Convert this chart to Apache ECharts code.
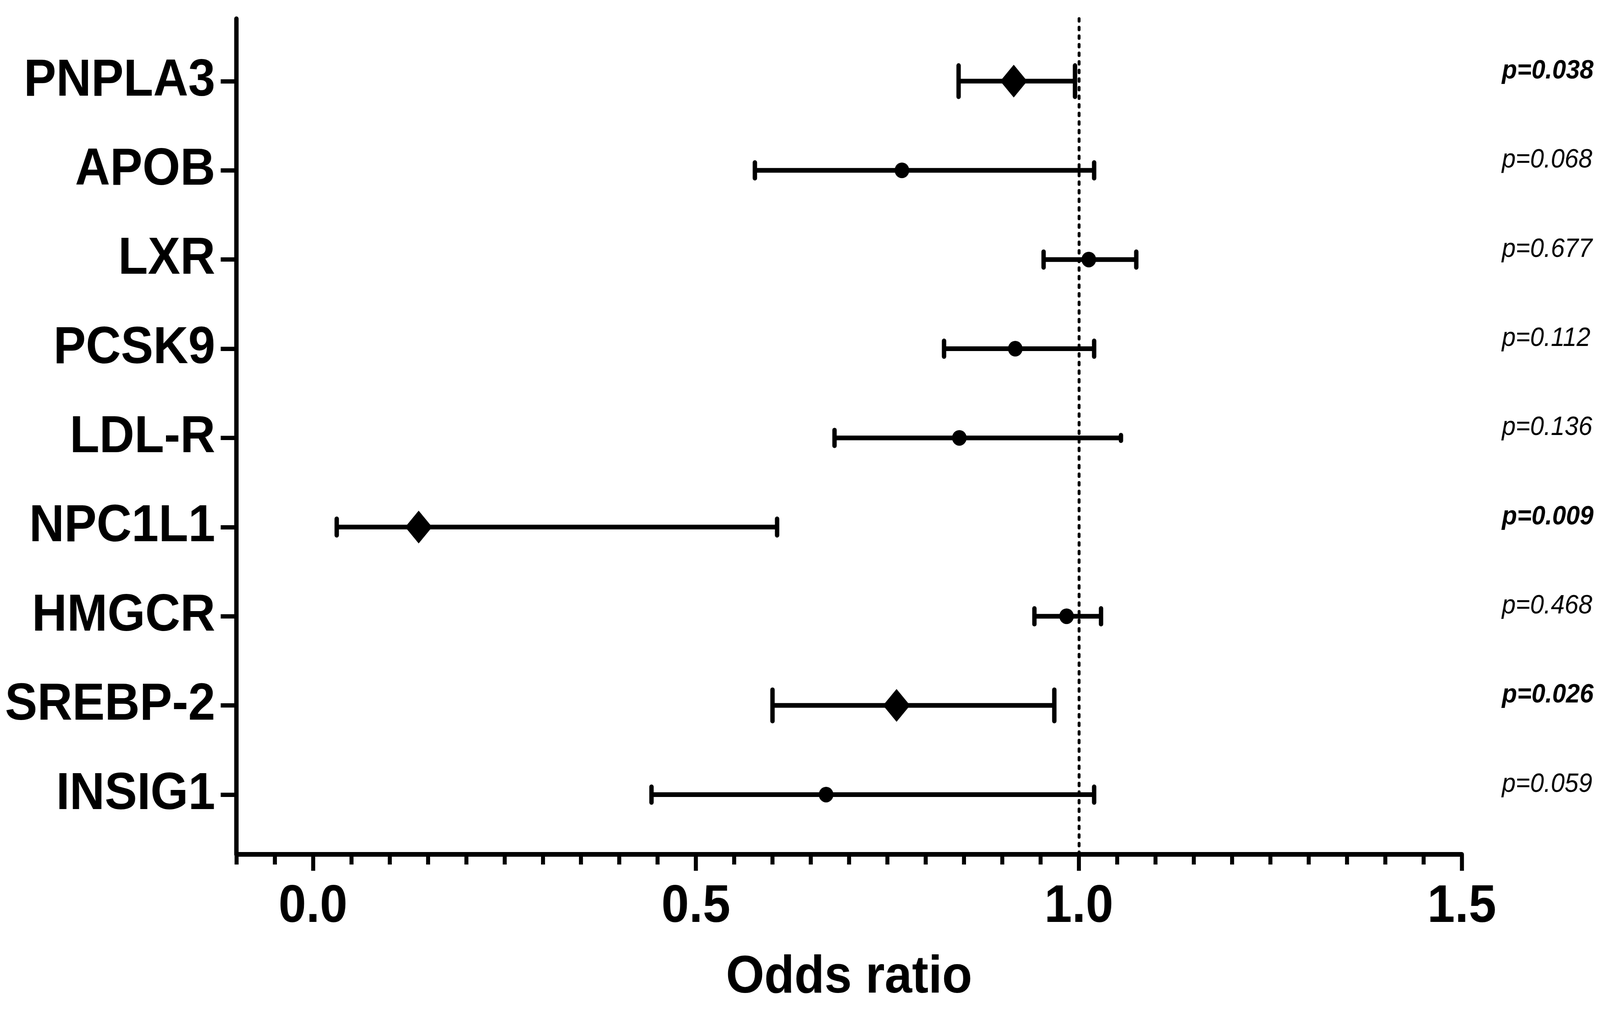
<!DOCTYPE html>
<html>
<head>
<meta charset="utf-8">
<script src="https://cdn.jsdelivr.net/npm/echarts@6/dist/echarts.min.js"></script>
<style>
html,body{margin:0;padding:0;background:#fff;overflow:hidden;}
#chart{width:4386px;height:2584px;transform-origin:0 0;}
</style>
</head>
<body>
<div id="chart"></div>
<script>
// ---- data ----
const genes = ['PNPLA3', 'APOB', 'LXR', 'PCSK9', 'LDL-R', 'NPC1L1', 'HMGCR', 'SREBP-2', 'INSIG1'];
const oddsRatio = [0.915, 0.769, 1.013, 0.917, 0.844, 0.138, 0.984, 0.762, 0.670];
const ciLow = [0.843, 0.577, 0.954, 0.824, 0.681, 0.031, 0.942, 0.600, 0.442];
const ciHigh = [0.995, 1.020, 1.075, 1.020, 1.055, 0.606, 1.029, 0.968, 1.020];
const pValues = ['p=0.038', 'p=0.068', 'p=0.677', 'p=0.112', 'p=0.136', 'p=0.009', 'p=0.468', 'p=0.026', 'p=0.059'];
const significant = [true, false, false, false, false, true, false, true, false];
const xTickLabels = [0, 0.5, 1.0, 1.5];
const refLine = 1.0;

// ---- styles ----
const FONT = "'Liberation Sans', Arial, Helvetica, sans-serif";
const capLowH = [92, 52, 52, 52, 52, 54, 52, 92, 52];
const capHighH = [92, 52, 52, 52, 26, 54, 52, 92, 52];
const LW = 12;
const W = 4386, H = 2584;

// fit the 4386x2584 drawing into whatever viewport the page gets
const el = document.getElementById('chart');
const sx = (window.innerWidth || W) / W, sy = (window.innerHeight || H) / H;
if (Math.abs(sx - 1) > 0.001 || Math.abs(sy - 1) > 0.001) {
  el.style.transform = 'scale(' + sx + ',' + sy + ')';
}

const rowIdx = genes.map((g, i) => i + 1);

const chart = echarts.init(el, null, {renderer: 'canvas', devicePixelRatio: 1, width: W, height: H});

const errData = genes.map((g, i) => [ciLow[i], ciHigh[i], oddsRatio[i], rowIdx[i]]);
const sigPts = [], nsPts = [];
genes.forEach((g, i) => { (significant[i] ? sigPts : nsPts).push([oddsRatio[i], rowIdx[i]]); });

const pStyle = {fontStyle: 'italic', fontSize: 68, fontFamily: FONT, color: '#000', padding: [0, 0, 52, 0]};

const option = {
  backgroundColor: '#fff',
  animation: false,
  grid: {left: 648, right: 379, top: 48, bottom: 396, containLabel: false, outerBoundsMode: 'none'},
  xAxis: [
    {
      type: 'value', min: -0.1, max: 1.5, interval: 0.05,
      axisLine: {show: true, onZero: false, lineStyle: {color: '#000', width: LW}},
      axisTick: {show: true, length: 26, lineStyle: {color: '#000', width: 11}},
      axisLabel: {
        show: true, customValues: xTickLabels,
        formatter: v => Number(v).toFixed(1),
        color: '#000', fontSize: 136, fontWeight: 'bold', fontFamily: FONT, margin: 67
      },
      splitLine: {show: false},
      name: 'Odds ratio', nameLocation: 'middle', nameGap: 249,
      nameTextStyle: {color: '#000', fontSize: 135, fontWeight: 'bold', fontFamily: FONT, verticalAlign: 'top'}
    },
    {
      type: 'value', min: -0.1, max: 1.5, position: 'bottom',
      axisLine: {show: false, onZero: false},
      axisTick: {show: true, customValues: xTickLabels, length: 42, lineStyle: {color: '#000', width: 11}},
      axisLabel: {show: false},
      splitLine: {show: false}
    }
  ],
  yAxis: [
    {
      type: 'value', min: 0.3, max: 9.67, inverse: true,
      axisLine: {show: true, onZero: false, lineStyle: {color: '#000', width: LW}},
      axisTick: {show: true, customValues: rowIdx, length: 43, lineStyle: {color: '#000', width: 11}},
      axisLabel: {
        show: true, customValues: rowIdx,
        formatter: v => genes[Math.round(v) - 1] || '',
        color: '#000', fontSize: 133, fontWeight: 'bold', fontFamily: FONT, margin: 58
      },
      splitLine: {show: false}
    },
    {
      type: 'value', min: 0.3, max: 9.67, inverse: true, position: 'right',
      axisLine: {show: false, onZero: false},
      axisTick: {show: false},
      axisLabel: {
        show: true, customValues: rowIdx, margin: 110,
        formatter: v => {
          const i = Math.round(v) - 1;
          return (significant[i] ? '{b|' : '{n|') + pValues[i] + '}';
        },
        rich: {
          b: Object.assign({}, pStyle, {fontWeight: 'bold'}),
          n: Object.assign({}, pStyle, {fontWeight: 'normal'})
        }
      },
      splitLine: {show: false}
    }
  ],
  series: [
    {
      type: 'custom', name: 'CI', xAxisIndex: 0, yAxisIndex: 0,
      data: errData,
      encode: {x: [0, 1, 2], y: 3},
      renderItem: function (params, api) {
        const i = params.dataIndex;
        const lo = api.coord([api.value(0), api.value(3)]);
        const hi = api.coord([api.value(1), api.value(3)]);
        const hl = (capLowH[i] - LW) / 2, hh = (capHighH[i] - LW) / 2;
        return {
          type: 'group',
          children: [
            {type: 'line', shape: {x1: lo[0], y1: lo[1], x2: hi[0], y2: hi[1]}, style: {stroke: '#000', lineWidth: LW}},
            {type: 'line', shape: {x1: lo[0], y1: lo[1] - hl, x2: lo[0], y2: lo[1] + hl}, style: {stroke: '#000', lineWidth: LW, lineCap: 'round'}},
            {type: 'line', shape: {x1: hi[0], y1: hi[1] - hh, x2: hi[0], y2: hi[1] + hh}, style: {stroke: '#000', lineWidth: LW, lineCap: 'round'}}
          ]
        };
      },
      markLine: {
        silent: true, symbol: ['none', 'none'], label: {show: false},
        lineStyle: {color: '#000', width: 8, type: [6, 16], cap: 'round'},
        data: [{xAxis: refLine}]
      },
      z: 2
    },
    {
      type: 'scatter', name: 'significant', data: sigPts, yAxisIndex: 0,
      symbol: 'diamond', symbolSize: [74, 84],
      itemStyle: {color: '#000', opacity: 1}, z: 3
    },
    {
      type: 'scatter', name: 'ns', data: nsPts, yAxisIndex: 0,
      symbol: 'circle', symbolSize: 40,
      itemStyle: {color: '#000', opacity: 1}, z: 3
    }
  ]
};
chart.setOption(option);
</script>
</body>
</html>
